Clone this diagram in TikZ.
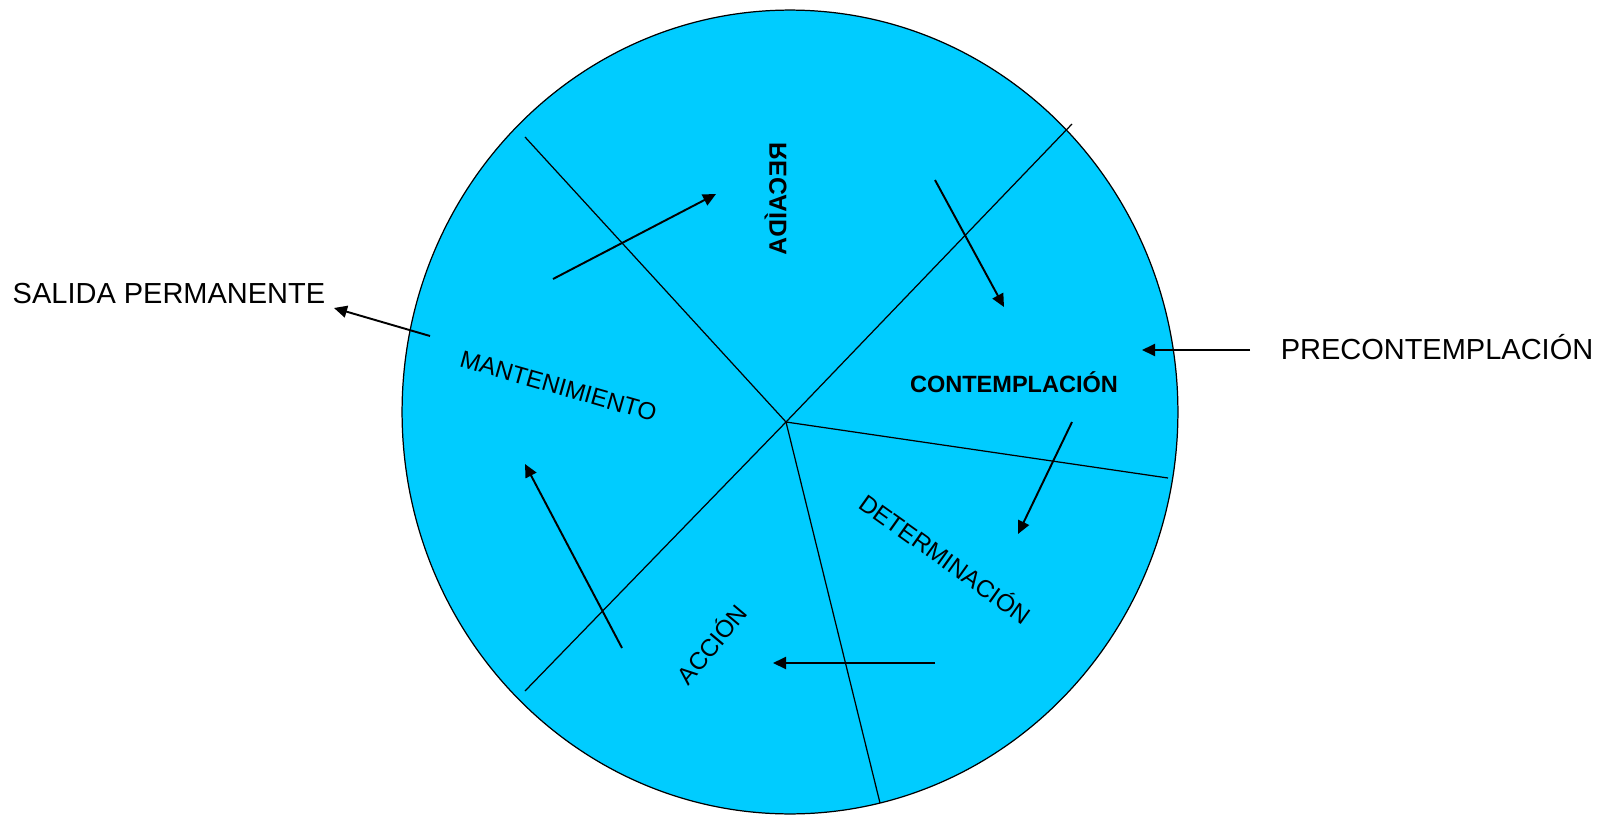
\documentclass[tikz,border=0pt]{standalone}
\usepackage{fontspec}
\setmainfont{Liberation Sans}
\usepackage{tikz}
\usetikzlibrary{arrows.meta}
\definecolor{wheelblue}{HTML}{00CCFF}

\begin{document}
\begin{tikzpicture}[
    x=0.02cm, y=-0.02cm,
    spoke/.style={draw=black, line width=0.7pt},
    flow/.style={-{Triangle[length=2.6mm, width=2.4mm]}, line width=1.1pt},
    outer/.style={font=\fontsize{16.5}{19}\selectfont, inner sep=0pt, anchor=base},
    stage/.style={font=\fontsize{13.8}{16}\selectfont, inner sep=0pt, text height=1.38ex, text depth=0pt},
    boldstage/.style={stage, font=\fontsize{13.4}{16}\selectfont\bfseries}
]
\useasboundingbox (0,0) rectangle (1600,815);

% wheel
\draw[fill=wheelblue, line width=0.7pt] (790,412) ellipse [x radius=7.76cm, y radius=8.04cm];

% spokes
\coordinate (hub) at (786,422);
\coordinate (ul) at (525,137);
\coordinate (ur) at (1072,124);
\coordinate (rt) at (1168,478);
\coordinate (bt) at (880,803);
\coordinate (ll) at (525,691);
\foreach \e in {ul, ur, rt, bt, ll}
  \draw[spoke] (hub) -- (\e);

% stage labels
\node[boldstage, rotate=-90, yscale=-1, font=\fontsize{14}{16}\selectfont\bfseries] (recaida) at (780,199) {RECAÍDA};
\node[boldstage] (contemplacion) at (1014,386) {CONTEMPLACIÓN};
\node[stage, rotate=-35.5] (determinacion) at (944,561) {DETERMINACIÓN};
\node[stage, rotate=50] (accion) at (714,646) {ACCIÓN};
\node[stage, rotate=-16] (mantenimiento) at (558,388) {MANTENIMIENTO};

% outside labels
\node[outer] (salida) at (169,303) {SALIDA PERMANENTE};
\node[outer] (precontemplacion) at (1437,359) {PRECONTEMPLACIÓN};

% arrow ends
\coordinate (recA) at (553,279);
\coordinate (recB) at (716,194);
\coordinate (conA) at (935,180);
\coordinate (conB) at (1004,307);
\coordinate (preA) at (1250,350);
\coordinate (preB) at (1142,350);
\coordinate (detA) at (1072,422);
\coordinate (detB) at (1018,534);
\coordinate (accA) at (935,663);
\coordinate (accB) at (773,663);
\coordinate (manA) at (622,648);
\coordinate (manB) at (525,464);
\coordinate (salA) at (430,336);
\coordinate (salB) at (334,308);

\foreach \a/\b in {recA/recB, conA/conB, preA/preB, detA/detB, accA/accB, manA/manB, salA/salB}
  \draw[flow] (\a) -- (\b);
\end{tikzpicture}
\end{document}
